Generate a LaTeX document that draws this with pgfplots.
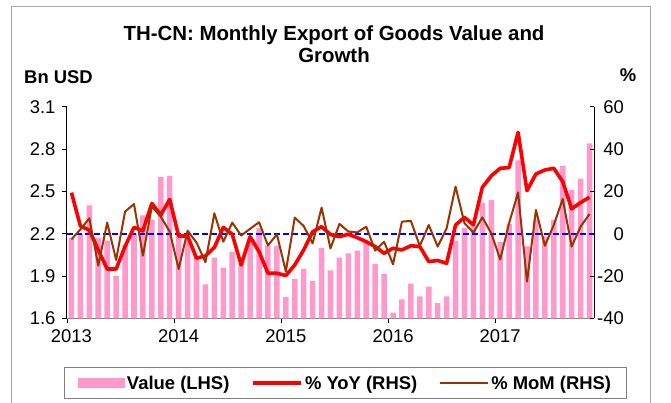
\documentclass[border=0pt]{standalone}
\usepackage{pgfplots}
\usepackage{pgfplotstable}
\pgfplotsset{compat=1.18}
\usepackage{fontspec}
\setmainfont{Liberation Sans}
\definecolor{barpink}{RGB}{255,153,204}
\definecolor{yoyred}{RGB}{255,0,0}
\definecolor{mombrown}{RGB}{153,51,0}
\definecolor{zeroblue}{RGB}{0,0,255}
\definecolor{framegray}{RGB}{170,170,170}
\definecolor{axgray}{RGB}{128,128,128}

\pgfplotstableread{
idx val yoy mom
0 2.17 19.4 -2.7
1 2.20 3.6 2.0
2 2.40 1.7 7.3
3 2.17 -7.7 -15.1
4 2.15 -16.7 5.2
5 1.90 -16.7 -12.4
6 2.12 -6.1 10.4
7 2.20 3.0 14.0
8 2.33 1.3 -10.4
9 2.30 14.3 12.8
10 2.60 8.8 8.0
11 2.61 16.2 1.0
12 2.19 -1.1 -16.7
13 2.20 -1.1 1.4
14 2.04 -11.6 -4.2
15 1.84 -10.5 -13.5
16 2.03 -6.5 9.6
17 1.96 3.0 -3.8
18 2.07 -0.3 5.2
19 1.99 -14.8 -0.9
20 2.15 -1.4 2.3
21 2.24 -8.5 5.4
22 2.115 -18.7 -5.6
23 2.115 -18.7 -0.3
24 1.75 -19.8 -17.9
25 1.88 -14.8 7.6
26 1.95 -7.7 3.6
27 1.865 0.9 -4.6
28 2.10 3.3 12.3
29 1.94 -0.4 -7.0
30 2.03 -1.4 4.6
31 2.06 -0.3 1.0
32 2.08 -1.9 0.6
33 2.14 -3.8 3.3
34 1.985 -6.1 -8.0
35 1.915 -9.3 -3.8
36 1.64 -6.9 -14.5
37 1.735 -7.7 5.7
38 1.845 -5.7 6.0
39 1.755 -6.1 -5.8
40 1.825 -13.2 4.1
41 1.71 -12.7 -6.1
42 1.755 -14.0 2.5
43 2.15 4.1 22.2
44 2.24 7.7 5.0
45 2.25 4.1 0.5
46 2.42 21.9 7.7
47 2.44 27.3 0.2
48 2.14 30.9 -12.2
49 2.27 31.2 5.0
50 2.72 47.9 19.5
51 2.11 20.3 -22.7
52 2.30 28.2 11.2
53 2.18 30.1 -5.7
54 2.30 30.9 4.1
55 2.68 24.6 16.4
56 2.51 11.7 -6.1
57 2.59 14.7 3.3
58 2.84 17.2 9.3
}\datatable

\begin{document}
\begin{tikzpicture}
\pgfplotsset{
  every axis/.append style={scale only axis, width=527bp, height=211.6bp,
    xmin=-0.5, xmax=58.5, at={(0,0)}, anchor=south west,
    tick label style={font=\fontsize{18.5}{20}\selectfont},
    /pgf/number format/assume math mode=true},
}
\begin{axis}[
  ymin=1.6, ymax=3.1,
  ytick={1.6,1.9,2.2,2.5,2.8,3.1},
  yticklabel style={/pgf/number format/.cd, fixed, fixed zerofill, precision=1, /tikz/.cd, xshift=-3bp},
  axis y line*=left, axis x line*=bottom,
  x axis line style={draw=axgray, line width=1.3bp, -},
  y axis line style={draw=black, line width=1bp, -},
  xtick={-0.5,11.5,23.5,35.5,47.5},
  xticklabels={2013,2014,2015,2016,2017},
  xticklabel style={xshift=4.5bp, yshift=-3bp},
  tick align=outside,
  major tick length=5bp,
  xtick style={draw=black, line width=0.8bp},
  ytick style={draw=black, line width=0.8bp},
]
\addplot[ybar, bar width=0.62, fill=barpink, draw=none] table[x=idx, y=val] {\datatable};
\end{axis}

\begin{axis}[
  ymin=-40, ymax=60,
  ytick={-40,-20,0,20,40,60},
  axis y line*=right, axis x line=none,
  y axis line style={draw=black, line width=1bp, -},
  ytick style={draw=black, line width=0.8bp},
  tick align=inside,
  major tick length=4.5bp,
  yticklabel style={anchor=east, inner sep=0pt, xshift=30bp},
  legend columns=3,
  legend image code/.code={\draw[#1] (0bp,0bp) -- (48bp,0bp);},
  legend style={at={(0,0)}, anchor=north west, xshift=-3bp, yshift=-49bp,
    font=\bfseries\fontsize{18.5}{22}\selectfont, draw=axgray, line width=1bp,
    inner xsep=13bp, inner ysep=6bp,
    nodes={inner xsep=2.5bp},
    /tikz/every even column/.append style={column sep=19bp}},
]
\addlegendimage{legend image code/.code={\fill[barpink] (0bp,-4.5bp) rectangle (46bp,4.5bp);}}
\addlegendentry{Value (LHS)}
\addplot[draw=zeroblue, dash pattern=on 6bp off 3bp, line width=1.7bp, forget plot] coordinates {(-0.5,0) (58.5,0)};
\addplot[yoyred, line width=3.6bp, line join=round] table[x=idx, y=yoy] {\datatable};
\addlegendentry{\% YoY (RHS)}
\addplot[mombrown, line width=2bp, line join=round] table[x=idx, y=mom] {\datatable};
\addlegendentry{\% MoM (RHS)}
\end{axis}

\node[anchor=base, font=\bfseries\fontsize{20.5}{22}\selectfont] at (267bp,277.8bp) {TH-CN: Monthly Export of Goods Value and};
\node[anchor=base, font=\bfseries\fontsize{20.5}{22}\selectfont] at (267bp,255.8bp) {Growth};
\node[anchor=base west, inner sep=0pt, font=\bfseries\fontsize{18.5}{20}\selectfont] at (-43bp,235bp) {Bn USD};
\node[anchor=base, inner sep=0pt, font=\bfseries\fontsize{18.5}{20}\selectfont] at (561bp,237bp) {\%};
\draw[framegray, line width=1bp] (-55bp,-120bp) -- (-55bp,311.3bp) -- (583bp,311.3bp) -- (583bp,-120bp);

\pgfresetboundingbox
\useasboundingbox (-67bp,-84.7bp) rectangle (604bp,318.3bp);
\end{tikzpicture}
\end{document}
